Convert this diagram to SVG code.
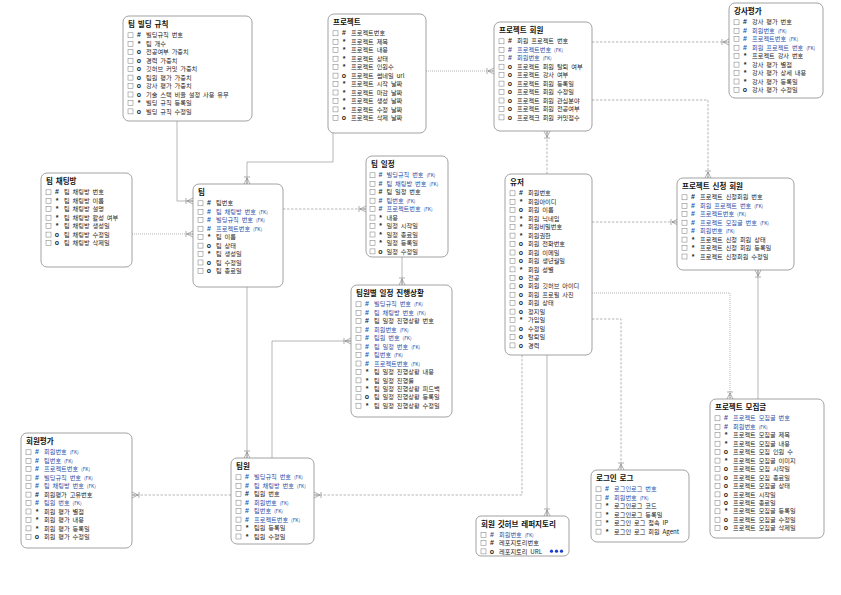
<svg xmlns="http://www.w3.org/2000/svg" width="841" height="595" viewBox="0 0 841 595">
<style>
  .box{fill:#fff;stroke:#8a8a8a;stroke-width:0.8}
  .ttl{font-family:"Noto Sans CJK KR","Noto Sans",sans-serif;font-size:7.5px;font-weight:bold;fill:#111;word-spacing:1.2px}
  .t{font-family:"Noto Sans CJK KR","Noto Sans",sans-serif;font-size:6.2px;fill:#222;word-spacing:1.5px}
  .s{font-family:"Liberation Sans","Noto Sans CJK KR",sans-serif;font-size:7px;font-weight:bold;fill:#222;text-anchor:middle}
  .fk{fill:#2a4fa8}
  .k{font-size:4.8px}
  .cb{fill:#fff;stroke:#777;stroke-width:0.5}
  .ln{fill:none;stroke:#9a9a9a;stroke-width:0.7}
  .dash{stroke-dasharray:2.5,1.5}
  .dot{stroke-dasharray:1,1}
</style>
<defs>
  <marker id="crow" viewBox="0 -4 10 8" refX="10" refY="0" markerWidth="10" markerHeight="8" markerUnits="userSpaceOnUse" orient="auto">
    <path d="M10,-3 L4,0 L10,3 M4,0 L10,0 M3,-3 L3,3" fill="none" stroke="#8a8a8a" stroke-width="0.7"/>
  </marker>
</defs>

<!-- relationships -->
<g id="connectors">
  <path class="ln" d="M177,121 V201 H193" marker-end="url(#crow)"/>
  <path class="ln" d="M333,133 V162 H247 V184" marker-end="url(#crow)"/>
  <path class="ln dot" d="M426,71 H494" marker-end="url(#crow)"/>
  <path class="ln dash" d="M592,42 H729" marker-end="url(#crow)"/>
  <path class="ln dash" d="M592,100 H708 V178" marker-end="url(#crow)"/>
  <path class="ln dash" d="M547,174 V131" marker-end="url(#crow)"/>
  <path class="ln dash" d="M592,222 H678" marker-end="url(#crow)"/>
  <path class="ln dot" d="M592,293 H730 V399" marker-end="url(#crow)"/>
  <path class="ln" d="M758,399 V270" marker-end="url(#crow)"/>
  <path class="ln dash" d="M592,319 H621 V470" marker-end="url(#crow)"/>
  <path class="ln" d="M547,355 V516" marker-end="url(#crow)"/>
  <path class="ln dash" d="M522,355 V495 H314" marker-end="url(#crow)"/>
  <path class="ln" d="M247,287 V458" marker-end="url(#crow)"/>
  <path class="ln dash" d="M283,209 H366" marker-end="url(#crow)"/>
  <path class="ln" d="M402,257 V285" marker-end="url(#crow)"/>
  <path class="ln" d="M272,458 V341 H351" marker-end="url(#crow)"/>
  <path class="ln dash" d="M231,495 H132" marker-end="url(#crow)"/>
  <path class="ln dot" d="M132,234 H193" marker-end="url(#crow)"/>
</g>

<!-- 팀 빌딩 규칙 -->
<g id="team-building-rule" transform="translate(123,16)">
  <rect class="box" width="129" height="105" rx="6"/>
  <text class="ttl" x="5" y="10.5">팀 빌딩 규칙</text>
  <rect class="cb" x="5" y="16.8" width="5" height="5"/><text class="s" x="16" y="21.4">#</text><text class="t" x="23" y="21.4">빌딩규칙 번호</text>
  <rect class="cb" x="5" y="25.3" width="5" height="5"/><text class="s" x="16" y="29.9">*</text><text class="t" x="23" y="29.9">팀 개수</text>
  <rect class="cb" x="5" y="33.7" width="5" height="5"/><text class="s" x="16" y="38.3">o</text><text class="t" x="23" y="38.3">전공여부 가중치</text>
  <rect class="cb" x="5" y="42.2" width="5" height="5"/><text class="s" x="16" y="46.8">o</text><text class="t" x="23" y="46.8">경력 가중치</text>
  <rect class="cb" x="5" y="50.6" width="5" height="5"/><text class="s" x="16" y="55.2">o</text><text class="t" x="23" y="55.2">깃허브 커밋 가중치</text>
  <rect class="cb" x="5" y="59.1" width="5" height="5"/><text class="s" x="16" y="63.7">o</text><text class="t" x="23" y="63.7">팀원 평가 가중치</text>
  <rect class="cb" x="5" y="67.5" width="5" height="5"/><text class="s" x="16" y="72.1">o</text><text class="t" x="23" y="72.1">강사 평가 가중치</text>
  <rect class="cb" x="5" y="76" width="5" height="5"/><text class="s" x="16" y="80.6">o</text><text class="t" x="23" y="80.6">기술 스택 비율 설정 사용 유무</text>
  <rect class="cb" x="5" y="84.4" width="5" height="5"/><text class="s" x="16" y="89">*</text><text class="t" x="23" y="89">빌딩 규칙 등록일</text>
  <rect class="cb" x="5" y="92.9" width="5" height="5"/><text class="s" x="16" y="97.5">o</text><text class="t" x="23" y="97.5">빌딩 규칙 수정일</text>
</g>

<!-- 프로젝트 -->
<g id="project" transform="translate(328,14)">
  <rect class="box" width="98" height="119" rx="6"/>
  <text class="ttl" x="5" y="10.5">프로젝트</text>
  <rect class="cb" x="5" y="16.8" width="5" height="5"/><text class="s" x="16" y="21.4">#</text><text class="t" x="23" y="21.4">프로젝트번호</text>
  <rect class="cb" x="5" y="25.3" width="5" height="5"/><text class="s" x="16" y="29.9">*</text><text class="t" x="23" y="29.9">프로젝트 제목</text>
  <rect class="cb" x="5" y="33.7" width="5" height="5"/><text class="s" x="16" y="38.3">*</text><text class="t" x="23" y="38.3">프로젝트 내용</text>
  <rect class="cb" x="5" y="42.2" width="5" height="5"/><text class="s" x="16" y="46.8">*</text><text class="t" x="23" y="46.8">프로젝트 상태</text>
  <rect class="cb" x="5" y="50.6" width="5" height="5"/><text class="s" x="16" y="55.2">*</text><text class="t" x="23" y="55.2">프로젝트 인원수</text>
  <rect class="cb" x="5" y="59.1" width="5" height="5"/><text class="s" x="16" y="63.7">o</text><text class="t" x="23" y="63.7">프로젝트 썸네일 url</text>
  <rect class="cb" x="5" y="67.5" width="5" height="5"/><text class="s" x="16" y="72.1">*</text><text class="t" x="23" y="72.1">프로젝트 시작 날짜</text>
  <rect class="cb" x="5" y="76" width="5" height="5"/><text class="s" x="16" y="80.6">*</text><text class="t" x="23" y="80.6">프로젝트 마감 날짜</text>
  <rect class="cb" x="5" y="84.4" width="5" height="5"/><text class="s" x="16" y="89">*</text><text class="t" x="23" y="89">프로젝트 생성 날짜</text>
  <rect class="cb" x="5" y="92.9" width="5" height="5"/><text class="s" x="16" y="97.5">*</text><text class="t" x="23" y="97.5">프로젝트 수정 날짜</text>
  <rect class="cb" x="5" y="101.3" width="5" height="5"/><text class="s" x="16" y="105.9">o</text><text class="t" x="23" y="105.9">프로젝트 삭제 날짜</text>
</g>

<!-- 프로젝트 회원 -->
<g id="project-member" transform="translate(494,22)">
  <rect class="box" width="98" height="109" rx="6"/>
  <text class="ttl" x="5" y="10.5">프로젝트 회원</text>
  <rect class="cb" x="5" y="16.8" width="5" height="5"/><text class="s" x="16" y="21.4">#</text><text class="t" x="23" y="21.4">회원 프로젝트 번호</text>
  <rect class="cb" x="5" y="25.3" width="5" height="5"/><text class="s fk" x="16" y="29.9">#</text><text class="t fk" x="23" y="29.9">프로젝트번호 <tspan class="k">(FK)</tspan></text>
  <rect class="cb" x="5" y="33.7" width="5" height="5"/><text class="s fk" x="16" y="38.3">#</text><text class="t fk" x="23" y="38.3">회원번호 <tspan class="k">(FK)</tspan></text>
  <rect class="cb" x="5" y="42.2" width="5" height="5"/><text class="s" x="16" y="46.8">o</text><text class="t" x="23" y="46.8">프로젝트 회원 탈퇴 여부</text>
  <rect class="cb" x="5" y="50.6" width="5" height="5"/><text class="s" x="16" y="55.2">o</text><text class="t" x="23" y="55.2">프로젝트 강사 여부</text>
  <rect class="cb" x="5" y="59.1" width="5" height="5"/><text class="s" x="16" y="63.7">o</text><text class="t" x="23" y="63.7">프로젝트 회원 등록일</text>
  <rect class="cb" x="5" y="67.5" width="5" height="5"/><text class="s" x="16" y="72.1">o</text><text class="t" x="23" y="72.1">프로젝트 회원 수정일</text>
  <rect class="cb" x="5" y="76" width="5" height="5"/><text class="s" x="16" y="80.6">o</text><text class="t" x="23" y="80.6">프로젝트 회원 관심분야</text>
  <rect class="cb" x="5" y="84.4" width="5" height="5"/><text class="s" x="16" y="89">o</text><text class="t" x="23" y="89">프로젝트 회원 전공여부</text>
  <rect class="cb" x="5" y="92.9" width="5" height="5"/><text class="s" x="16" y="97.5">o</text><text class="t" x="23" y="97.5">프로젝크 회원 커밋점수</text>
</g>

<!-- 강사평가 -->
<g id="instructor-review" transform="translate(729,3)">
  <rect class="box" width="94" height="95" rx="6"/>
  <text class="ttl" x="5" y="10.5">강사평가</text>
  <rect class="cb" x="5" y="16.8" width="5" height="5"/><text class="s" x="16" y="21.4">#</text><text class="t" x="23" y="21.4">강사 평가 번호</text>
  <rect class="cb" x="5" y="25.3" width="5" height="5"/><text class="s fk" x="16" y="29.9">#</text><text class="t fk" x="23" y="29.9">회원번호 <tspan class="k">(FK)</tspan></text>
  <rect class="cb" x="5" y="33.7" width="5" height="5"/><text class="s fk" x="16" y="38.3">#</text><text class="t fk" x="23" y="38.3">프로젝트번호 <tspan class="k">(FK)</tspan></text>
  <rect class="cb" x="5" y="42.2" width="5" height="5"/><text class="s fk" x="16" y="46.8">#</text><text class="t fk" x="23" y="46.8">회원 프로젝트 번호 <tspan class="k">(FK)</tspan></text>
  <rect class="cb" x="5" y="50.6" width="5" height="5"/><text class="s" x="16" y="55.2">*</text><text class="t" x="23" y="55.2">프로젝트 강사 번호</text>
  <rect class="cb" x="5" y="59.1" width="5" height="5"/><text class="s" x="16" y="63.7">*</text><text class="t" x="23" y="63.7">강사 평가 별점</text>
  <rect class="cb" x="5" y="67.5" width="5" height="5"/><text class="s" x="16" y="72.1">*</text><text class="t" x="23" y="72.1">강사 평가 상세 내용</text>
  <rect class="cb" x="5" y="76" width="5" height="5"/><text class="s" x="16" y="80.6">*</text><text class="t" x="23" y="80.6">강사 평가 등록일</text>
  <rect class="cb" x="5" y="84.4" width="5" height="5"/><text class="s" x="16" y="89">o</text><text class="t" x="23" y="89">강사 평가 수정일</text>
</g>

<!-- 팀 채팅방 -->
<g id="team-chatroom" transform="translate(41,173)">
  <rect class="box" width="91" height="94" rx="6"/>
  <text class="ttl" x="5" y="10.5">팀 채팅방</text>
  <rect class="cb" x="5" y="16.8" width="5" height="5"/><text class="s" x="16" y="21.4">#</text><text class="t" x="23" y="21.4">팀 채팅방 번호</text>
  <rect class="cb" x="5" y="25.3" width="5" height="5"/><text class="s" x="16" y="29.9">*</text><text class="t" x="23" y="29.9">팀 채팅방 이름</text>
  <rect class="cb" x="5" y="33.7" width="5" height="5"/><text class="s" x="16" y="38.3">*</text><text class="t" x="23" y="38.3">팀 채팅방 설명</text>
  <rect class="cb" x="5" y="42.2" width="5" height="5"/><text class="s" x="16" y="46.8">*</text><text class="t" x="23" y="46.8">팀 채팅방 활성 여부</text>
  <rect class="cb" x="5" y="50.6" width="5" height="5"/><text class="s" x="16" y="55.2">*</text><text class="t" x="23" y="55.2">팀 채팅방 생성일</text>
  <rect class="cb" x="5" y="59.1" width="5" height="5"/><text class="s" x="16" y="63.7">o</text><text class="t" x="23" y="63.7">팀 채팅방 수정일</text>
  <rect class="cb" x="5" y="67.5" width="5" height="5"/><text class="s" x="16" y="72.1">o</text><text class="t" x="23" y="72.1">팀 채팅방 삭제일</text>
</g>

<!-- 팀 -->
<g id="team" transform="translate(193,184)">
  <rect class="box" width="90" height="103" rx="6"/>
  <text class="ttl" x="5" y="10.5">팀</text>
  <rect class="cb" x="5" y="16.8" width="5" height="5"/><text class="s" x="16" y="21.4">#</text><text class="t" x="23" y="21.4">팀번호</text>
  <rect class="cb" x="5" y="25.3" width="5" height="5"/><text class="s fk" x="16" y="29.9">#</text><text class="t fk" x="23" y="29.9">팀 채팅방 번호 <tspan class="k">(FK)</tspan></text>
  <rect class="cb" x="5" y="33.7" width="5" height="5"/><text class="s fk" x="16" y="38.3">#</text><text class="t fk" x="23" y="38.3">빌딩규칙 번호 <tspan class="k">(FK)</tspan></text>
  <rect class="cb" x="5" y="42.2" width="5" height="5"/><text class="s fk" x="16" y="46.8">#</text><text class="t fk" x="23" y="46.8">프로젝트번호 <tspan class="k">(FK)</tspan></text>
  <rect class="cb" x="5" y="50.6" width="5" height="5"/><text class="s" x="16" y="55.2">*</text><text class="t" x="23" y="55.2">팀 이름</text>
  <rect class="cb" x="5" y="59.1" width="5" height="5"/><text class="s" x="16" y="63.7">o</text><text class="t" x="23" y="63.7">팀 상태</text>
  <rect class="cb" x="5" y="67.5" width="5" height="5"/><text class="s" x="16" y="72.1">*</text><text class="t" x="23" y="72.1">팀 생성일</text>
  <rect class="cb" x="5" y="76" width="5" height="5"/><text class="s" x="16" y="80.6">o</text><text class="t" x="23" y="80.6">팀 수정일</text>
  <rect class="cb" x="5" y="84.4" width="5" height="5"/><text class="s" x="16" y="89">o</text><text class="t" x="23" y="89">팀 종료일</text>
</g>

<!-- 팀 일정 -->
<g id="team-schedule" transform="translate(366,156)">
  <rect class="box" width="82" height="101" rx="6"/>
  <text class="ttl" x="5" y="10.5">팀 일정</text>
  <rect class="cb" x="4" y="16.8" width="5" height="5"/><text class="s fk" x="14.5" y="21.4">#</text><text class="t fk" x="20.5" y="21.4">빌딩규칙 번호 <tspan class="k">(FK)</tspan></text>
  <rect class="cb" x="4" y="25.3" width="5" height="5"/><text class="s fk" x="14.5" y="29.9">#</text><text class="t fk" x="20.5" y="29.9">팀 채팅방 번호 <tspan class="k">(FK)</tspan></text>
  <rect class="cb" x="4" y="33.7" width="5" height="5"/><text class="s" x="14.5" y="38.3">#</text><text class="t" x="20.5" y="38.3">팀 일정 번호</text>
  <rect class="cb" x="4" y="42.2" width="5" height="5"/><text class="s fk" x="14.5" y="46.8">#</text><text class="t fk" x="20.5" y="46.8">팀번호 <tspan class="k">(FK)</tspan></text>
  <rect class="cb" x="4" y="50.6" width="5" height="5"/><text class="s fk" x="14.5" y="55.2">#</text><text class="t fk" x="20.5" y="55.2">프로젝트번호 <tspan class="k">(FK)</tspan></text>
  <rect class="cb" x="4" y="59.1" width="5" height="5"/><text class="s" x="14.5" y="63.7">*</text><text class="t" x="20.5" y="63.7">내용</text>
  <rect class="cb" x="4" y="67.5" width="5" height="5"/><text class="s" x="14.5" y="72.1">*</text><text class="t" x="20.5" y="72.1">일정 시작일</text>
  <rect class="cb" x="4" y="76" width="5" height="5"/><text class="s" x="14.5" y="80.6">*</text><text class="t" x="20.5" y="80.6">일정 종료일</text>
  <rect class="cb" x="4" y="84.4" width="5" height="5"/><text class="s" x="14.5" y="89">*</text><text class="t" x="20.5" y="89">일정 등록일</text>
  <rect class="cb" x="4" y="92.9" width="5" height="5"/><text class="s" x="14.5" y="97.5">o</text><text class="t" x="20.5" y="97.5">일정 수정일</text>
</g>

<!-- 유저 -->
<g id="user" transform="translate(505,174)">
  <rect class="box" width="87" height="181" rx="6"/>
  <text class="ttl" x="5" y="10.5">유저</text>
  <rect class="cb" x="5" y="16.8" width="5" height="5"/><text class="s" x="16" y="21.4">#</text><text class="t" x="23" y="21.4">회원번호</text>
  <rect class="cb" x="5" y="25.3" width="5" height="5"/><text class="s" x="16" y="29.9">*</text><text class="t" x="23" y="29.9">회원아이디</text>
  <rect class="cb" x="5" y="33.7" width="5" height="5"/><text class="s" x="16" y="38.3">o</text><text class="t" x="23" y="38.3">회원 이름</text>
  <rect class="cb" x="5" y="42.2" width="5" height="5"/><text class="s" x="16" y="46.8">*</text><text class="t" x="23" y="46.8">회원 닉네임</text>
  <rect class="cb" x="5" y="50.6" width="5" height="5"/><text class="s" x="16" y="55.2">*</text><text class="t" x="23" y="55.2">회원비밀번호</text>
  <rect class="cb" x="5" y="59.1" width="5" height="5"/><text class="s" x="16" y="63.7">*</text><text class="t" x="23" y="63.7">회원권한</text>
  <rect class="cb" x="5" y="67.5" width="5" height="5"/><text class="s" x="16" y="72.1">o</text><text class="t" x="23" y="72.1">회원 전화번호</text>
  <rect class="cb" x="5" y="76" width="5" height="5"/><text class="s" x="16" y="80.6">o</text><text class="t" x="23" y="80.6">회원 이메일</text>
  <rect class="cb" x="5" y="84.4" width="5" height="5"/><text class="s" x="16" y="89">o</text><text class="t" x="23" y="89">회원 생년월일</text>
  <rect class="cb" x="5" y="92.9" width="5" height="5"/><text class="s" x="16" y="97.5">*</text><text class="t" x="23" y="97.5">회원 성별</text>
  <rect class="cb" x="5" y="101.3" width="5" height="5"/><text class="s" x="16" y="105.9">o</text><text class="t" x="23" y="105.9">전공</text>
  <rect class="cb" x="5" y="109.8" width="5" height="5"/><text class="s" x="16" y="114.4">o</text><text class="t" x="23" y="114.4">회원 깃허브 아이디</text>
  <rect class="cb" x="5" y="118.2" width="5" height="5"/><text class="s" x="16" y="122.8">o</text><text class="t" x="23" y="122.8">회원 프로필 사진</text>
  <rect class="cb" x="5" y="126.7" width="5" height="5"/><text class="s" x="16" y="131.3">o</text><text class="t" x="23" y="131.3">회원 상태</text>
  <rect class="cb" x="5" y="135.1" width="5" height="5"/><text class="s" x="16" y="139.7">o</text><text class="t" x="23" y="139.7">정지일</text>
  <rect class="cb" x="5" y="143.6" width="5" height="5"/><text class="s" x="16" y="148.2">*</text><text class="t" x="23" y="148.2">가입일</text>
  <rect class="cb" x="5" y="152" width="5" height="5"/><text class="s" x="16" y="156.6">o</text><text class="t" x="23" y="156.6">수정일</text>
  <rect class="cb" x="5" y="160.5" width="5" height="5"/><text class="s" x="16" y="165.1">o</text><text class="t" x="23" y="165.1">탈퇴일</text>
  <rect class="cb" x="5" y="168.9" width="5" height="5"/><text class="s" x="16" y="173.5">o</text><text class="t" x="23" y="173.5">경력</text>
</g>

<!-- 프로젝트 신청 회원 -->
<g id="project-applicant" transform="translate(677,178)">
  <rect class="box" width="117" height="92" rx="6"/>
  <text class="ttl" x="5" y="10.5">프로젝트 신청 회원</text>
  <rect class="cb" x="5" y="16.8" width="5" height="5"/><text class="s" x="16" y="21.4">#</text><text class="t" x="23" y="21.4">프로젝트 신청회원 번호</text>
  <rect class="cb" x="5" y="25.3" width="5" height="5"/><text class="s fk" x="16" y="29.9">#</text><text class="t fk" x="23" y="29.9">회원 프로젝트 번호 <tspan class="k">(FK)</tspan></text>
  <rect class="cb" x="5" y="33.7" width="5" height="5"/><text class="s fk" x="16" y="38.3">#</text><text class="t fk" x="23" y="38.3">프로젝트번호 <tspan class="k">(FK)</tspan></text>
  <rect class="cb" x="5" y="42.2" width="5" height="5"/><text class="s fk" x="16" y="46.8">#</text><text class="t fk" x="23" y="46.8">프로젝트 모집글 번호 <tspan class="k">(FK)</tspan></text>
  <rect class="cb" x="5" y="50.6" width="5" height="5"/><text class="s fk" x="16" y="55.2">#</text><text class="t fk" x="23" y="55.2">회원번호 <tspan class="k">(FK)</tspan></text>
  <rect class="cb" x="5" y="59.1" width="5" height="5"/><text class="s" x="16" y="63.7">*</text><text class="t" x="23" y="63.7">프로젝트 신청 회원 상태</text>
  <rect class="cb" x="5" y="67.5" width="5" height="5"/><text class="s" x="16" y="72.1">*</text><text class="t" x="23" y="72.1">프로젝트 신청 회원 등록일</text>
  <rect class="cb" x="5" y="76" width="5" height="5"/><text class="s" x="16" y="80.6">*</text><text class="t" x="23" y="80.6">프로젝트 신청회원 수정일</text>
</g>

<!-- 팀원별 일정 진행상황 -->
<g id="member-schedule-progress" transform="translate(351,285)">
  <rect class="box" width="101" height="132" rx="6"/>
  <text class="ttl" x="5" y="10.5">팀원별 일정 진행상황</text>
  <rect class="cb" x="5" y="16.8" width="5" height="5"/><text class="s fk" x="16" y="21.4">#</text><text class="t fk" x="23" y="21.4">빌딩규칙 번호 <tspan class="k">(FK)</tspan></text>
  <rect class="cb" x="5" y="25.3" width="5" height="5"/><text class="s fk" x="16" y="29.9">#</text><text class="t fk" x="23" y="29.9">팀 채팅방 번호 <tspan class="k">(FK)</tspan></text>
  <rect class="cb" x="5" y="33.7" width="5" height="5"/><text class="s" x="16" y="38.3">#</text><text class="t" x="23" y="38.3">팀 일정 진행상황 번호</text>
  <rect class="cb" x="5" y="42.2" width="5" height="5"/><text class="s fk" x="16" y="46.8">#</text><text class="t fk" x="23" y="46.8">회원번호 <tspan class="k">(FK)</tspan></text>
  <rect class="cb" x="5" y="50.6" width="5" height="5"/><text class="s fk" x="16" y="55.2">#</text><text class="t fk" x="23" y="55.2">팀원 번호 <tspan class="k">(FK)</tspan></text>
  <rect class="cb" x="5" y="59.1" width="5" height="5"/><text class="s fk" x="16" y="63.7">#</text><text class="t fk" x="23" y="63.7">팀 일정 번호 <tspan class="k">(FK)</tspan></text>
  <rect class="cb" x="5" y="67.5" width="5" height="5"/><text class="s fk" x="16" y="72.1">#</text><text class="t fk" x="23" y="72.1">팀번호 <tspan class="k">(FK)</tspan></text>
  <rect class="cb" x="5" y="76" width="5" height="5"/><text class="s fk" x="16" y="80.6">#</text><text class="t fk" x="23" y="80.6">프로젝트번호 <tspan class="k">(FK)</tspan></text>
  <rect class="cb" x="5" y="84.4" width="5" height="5"/><text class="s" x="16" y="89">*</text><text class="t" x="23" y="89">팀 일정 진행상황 내용</text>
  <rect class="cb" x="5" y="92.9" width="5" height="5"/><text class="s" x="16" y="97.5">*</text><text class="t" x="23" y="97.5">팀 일정 진행률</text>
  <rect class="cb" x="5" y="101.3" width="5" height="5"/><text class="s" x="16" y="105.9">*</text><text class="t" x="23" y="105.9">팀 일정 진행상황 피드백</text>
  <rect class="cb" x="5" y="109.8" width="5" height="5"/><text class="s" x="16" y="114.4">o</text><text class="t" x="23" y="114.4">팀 일정 진행상황 등록일</text>
  <rect class="cb" x="5" y="118.2" width="5" height="5"/><text class="s" x="16" y="122.8">*</text><text class="t" x="23" y="122.8">팀 일정 진행상황 수정일</text>
</g>

<!-- 회원평가 -->
<g id="member-review" transform="translate(21,433)">
  <rect class="box" width="111" height="115" rx="6"/>
  <text class="ttl" x="5" y="10.5">회원평가</text>
  <rect class="cb" x="5" y="16.8" width="5" height="5"/><text class="s fk" x="16" y="21.4">#</text><text class="t fk" x="23" y="21.4">회원번호 <tspan class="k">(FK)</tspan></text>
  <rect class="cb" x="5" y="25.3" width="5" height="5"/><text class="s fk" x="16" y="29.9">#</text><text class="t fk" x="23" y="29.9">팀번호 <tspan class="k">(FK)</tspan></text>
  <rect class="cb" x="5" y="33.7" width="5" height="5"/><text class="s fk" x="16" y="38.3">#</text><text class="t fk" x="23" y="38.3">프로젝트번호 <tspan class="k">(FK)</tspan></text>
  <rect class="cb" x="5" y="42.2" width="5" height="5"/><text class="s fk" x="16" y="46.8">#</text><text class="t fk" x="23" y="46.8">빌딩규칙 번호 <tspan class="k">(FK)</tspan></text>
  <rect class="cb" x="5" y="50.6" width="5" height="5"/><text class="s fk" x="16" y="55.2">#</text><text class="t fk" x="23" y="55.2">팀 채팅방 번호 <tspan class="k">(FK)</tspan></text>
  <rect class="cb" x="5" y="59.1" width="5" height="5"/><text class="s" x="16" y="63.7">#</text><text class="t" x="23" y="63.7">회원평가 고유번호</text>
  <rect class="cb" x="5" y="67.5" width="5" height="5"/><text class="s fk" x="16" y="72.1">#</text><text class="t fk" x="23" y="72.1">팀원 번호 <tspan class="k">(FK)</tspan></text>
  <rect class="cb" x="5" y="76" width="5" height="5"/><text class="s" x="16" y="80.6">*</text><text class="t" x="23" y="80.6">회원 평가 별점</text>
  <rect class="cb" x="5" y="84.4" width="5" height="5"/><text class="s" x="16" y="89">*</text><text class="t" x="23" y="89">회원 평가 내용</text>
  <rect class="cb" x="5" y="92.9" width="5" height="5"/><text class="s" x="16" y="97.5">*</text><text class="t" x="23" y="97.5">회원 평가 등록일</text>
  <rect class="cb" x="5" y="101.3" width="5" height="5"/><text class="s" x="16" y="105.9">o</text><text class="t" x="23" y="105.9">회원 평가 수정일</text>
</g>

<!-- 프로젝트 모집글 -->
<g id="project-recruit" transform="translate(710,399)">
  <rect class="box" width="114" height="139" rx="6"/>
  <text class="ttl" x="5" y="10.5">프로젝트 모집글</text>
  <rect class="cb" x="5" y="16.8" width="5" height="5"/><text class="s fk" x="16" y="21.4">#</text><text class="t fk" x="23" y="21.4">프로젝트 모집글 번호</text>
  <rect class="cb" x="5" y="25.3" width="5" height="5"/><text class="s fk" x="16" y="29.9">#</text><text class="t fk" x="23" y="29.9">회원번호 <tspan class="k">(FK)</tspan></text>
  <rect class="cb" x="5" y="33.7" width="5" height="5"/><text class="s" x="16" y="38.3">*</text><text class="t" x="23" y="38.3">프로젝트 모집글 제목</text>
  <rect class="cb" x="5" y="42.2" width="5" height="5"/><text class="s" x="16" y="46.8">*</text><text class="t" x="23" y="46.8">프로젝트 모집글 내용</text>
  <rect class="cb" x="5" y="50.6" width="5" height="5"/><text class="s" x="16" y="55.2">o</text><text class="t" x="23" y="55.2">프로젝트 모집 인원 수</text>
  <rect class="cb" x="5" y="59.1" width="5" height="5"/><text class="s" x="16" y="63.7">*</text><text class="t" x="23" y="63.7">프로젝트 모집글 이미지</text>
  <rect class="cb" x="5" y="67.5" width="5" height="5"/><text class="s" x="16" y="72.1">o</text><text class="t" x="23" y="72.1">프로젝트 모집 시작일</text>
  <rect class="cb" x="5" y="76" width="5" height="5"/><text class="s" x="16" y="80.6">o</text><text class="t" x="23" y="80.6">프로젝트 모집 종료일</text>
  <rect class="cb" x="5" y="84.4" width="5" height="5"/><text class="s" x="16" y="89">o</text><text class="t" x="23" y="89">프로젝트 모집글 상태</text>
  <rect class="cb" x="5" y="92.9" width="5" height="5"/><text class="s" x="16" y="97.5">o</text><text class="t" x="23" y="97.5">프로젝트 시작일</text>
  <rect class="cb" x="5" y="101.3" width="5" height="5"/><text class="s" x="16" y="105.9">o</text><text class="t" x="23" y="105.9">프로젝트 종료일</text>
  <rect class="cb" x="5" y="109.8" width="5" height="5"/><text class="s" x="16" y="114.4">*</text><text class="t" x="23" y="114.4">프로젝트 모집글 등록일</text>
  <rect class="cb" x="5" y="118.2" width="5" height="5"/><text class="s" x="16" y="122.8">o</text><text class="t" x="23" y="122.8">프로젝트 모집글 수정일</text>
  <rect class="cb" x="5" y="126.7" width="5" height="5"/><text class="s" x="16" y="131.3">o</text><text class="t" x="23" y="131.3">프로젝트 모집글 삭제일</text>
</g>

<!-- 팀원 -->
<g id="team-member" transform="translate(231,458)">
  <rect class="box" width="83" height="86" rx="6"/>
  <text class="ttl" x="5" y="10.5">팀원</text>
  <rect class="cb" x="5" y="16.8" width="5" height="5"/><text class="s fk" x="16" y="21.4">#</text><text class="t fk" x="23" y="21.4">빌딩규칙 번호 <tspan class="k">(FK)</tspan></text>
  <rect class="cb" x="5" y="25.3" width="5" height="5"/><text class="s fk" x="16" y="29.9">#</text><text class="t fk" x="23" y="29.9">팀 채팅방 번호 <tspan class="k">(FK)</tspan></text>
  <rect class="cb" x="5" y="33.7" width="5" height="5"/><text class="s" x="16" y="38.3">#</text><text class="t" x="23" y="38.3">팀원 번호</text>
  <rect class="cb" x="5" y="42.2" width="5" height="5"/><text class="s fk" x="16" y="46.8">#</text><text class="t fk" x="23" y="46.8">회원번호 <tspan class="k">(FK)</tspan></text>
  <rect class="cb" x="5" y="50.6" width="5" height="5"/><text class="s fk" x="16" y="55.2">#</text><text class="t fk" x="23" y="55.2">팀번호 <tspan class="k">(FK)</tspan></text>
  <rect class="cb" x="5" y="59.1" width="5" height="5"/><text class="s fk" x="16" y="63.7">#</text><text class="t fk" x="23" y="63.7">프로젝트번호 <tspan class="k">(FK)</tspan></text>
  <rect class="cb" x="5" y="67.5" width="5" height="5"/><text class="s" x="16" y="72.1">*</text><text class="t" x="23" y="72.1">팀원 등록일</text>
  <rect class="cb" x="5" y="76" width="5" height="5"/><text class="s" x="16" y="80.6">*</text><text class="t" x="23" y="80.6">팀원 수정일</text>
</g>

<!-- 회원 깃허브 레퍼지토리 -->
<g id="member-github-repo" transform="translate(476,516)">
  <rect class="box" width="93" height="40" rx="5"/>
  <text class="ttl" x="5" y="10.5">회원 깃허브 레퍼지토리</text>
  <rect class="cb" x="5" y="16.3" width="5" height="5"/><text class="s fk" x="16" y="20.9">#</text><text class="t fk" x="23" y="20.9">회원번호 <tspan class="k">(FK)</tspan></text>
  <rect class="cb" x="5" y="24.6" width="5" height="5"/><text class="s" x="16" y="29.2">#</text><text class="t" x="23" y="29.2">레포지토리번호</text>
  <rect class="cb" x="5" y="32.9" width="5" height="5"/><text class="s" x="16" y="37.5">o</text><text class="t" x="23" y="37.5">레포지토리 URL</text>
  <g fill="#1a3fd0"><circle cx="75.5" cy="35.2" r="1.6"/><circle cx="80.5" cy="35.2" r="1.6"/><circle cx="85.5" cy="35.2" r="1.6"/></g>
</g>

<!-- 로그인 로그 -->
<g id="login-log" transform="translate(591,470)">
  <rect class="box" width="98" height="72" rx="6"/>
  <text class="ttl" x="5" y="10.5">로그인 로그</text>
  <rect class="cb" x="5" y="16.8" width="5" height="5"/><text class="s fk" x="16" y="21.4">#</text><text class="t fk" x="23" y="21.4">로그인로그 번호</text>
  <rect class="cb" x="5" y="25.3" width="5" height="5"/><text class="s fk" x="16" y="29.9">#</text><text class="t fk" x="23" y="29.9">회원번호 <tspan class="k">(FK)</tspan></text>
  <rect class="cb" x="5" y="33.7" width="5" height="5"/><text class="s" x="16" y="38.3">*</text><text class="t" x="23" y="38.3">로그인로그 코드</text>
  <rect class="cb" x="5" y="42.2" width="5" height="5"/><text class="s" x="16" y="46.8">*</text><text class="t" x="23" y="46.8">로그인로그 등록일</text>
  <rect class="cb" x="5" y="50.6" width="5" height="5"/><text class="s" x="16" y="55.2">*</text><text class="t" x="23" y="55.2">로그인 로그 접속 IP</text>
  <rect class="cb" x="5" y="59.1" width="5" height="5"/><text class="s" x="16" y="63.7">*</text><text class="t" x="23" y="63.7">로그인 로그 회원 Agent</text>
</g>
</svg>
